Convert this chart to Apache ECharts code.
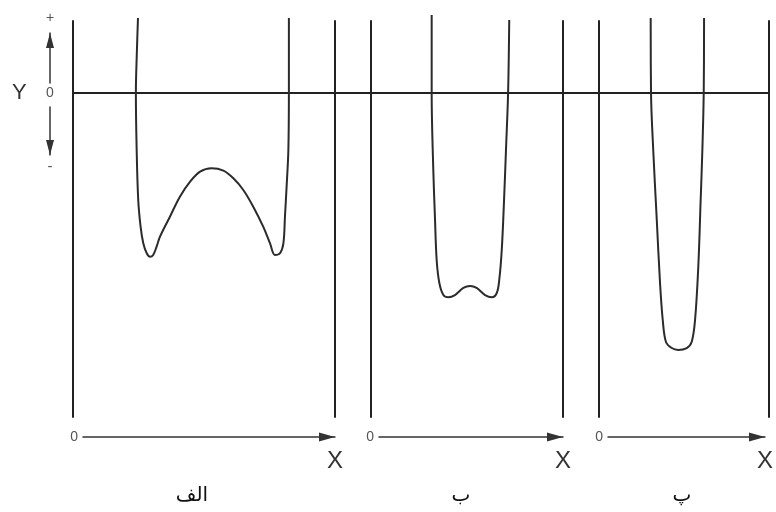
<!DOCTYPE html>
<html>
<head>
<meta charset="utf-8">
<script src="https://cdn.jsdelivr.net/npm/echarts@6/dist/echarts.min.js"></script>
<style>
  html, body { margin: 0; padding: 0; background: #fff; }
  #chart { width: 776px; height: 512px; }
</style>
</head>
<body>
<div id="chart"></div>
<script>
// Three potential wells. Inside each well x runs from the left wall (0) to the right wall (1);
// y is the energy, zero at the common baseline.
const panelLabels = ['الف', 'ب', 'پ'];

const curveAx = [0.248, 0.244, 0.240, 0.243, 0.249, 0.258, 0.268, 0.281, 0.294, 0.306,
                 0.319, 0.332, 0.370, 0.408, 0.447, 0.485, 0.529, 0.574, 0.612, 0.650,
                 0.688, 0.726, 0.752, 0.771, 0.790, 0.803, 0.809, 0.816, 0.822, 0.824, 0.824];
const curveAy = [1.042, 0.597, 0, -0.792, -1.486, -1.857, -2.083, -2.222, -2.274, -2.25,
                 -2.135, -1.996, -1.718, -1.440, -1.232, -1.093, -1.046, -1.079, -1.185, -1.347,
                 -1.579, -1.857, -2.088, -2.25, -2.226, -2.088, -1.718, -1.254, -0.792, 0, 1.042];

const curveBx = [0.316, 0.316, 0.324, 0.333, 0.342, 0.356, 0.377, 0.403, 0.4375, 0.481,
                 0.516, 0.550, 0.594, 0.629, 0.655, 0.668, 0.681, 0.693, 0.703, 0.714, 0.720];
const curveBy = [1.083, 0, -1.028, -1.722, -2.319, -2.639, -2.806, -2.838, -2.806, -2.708,
                 -2.681, -2.708, -2.806, -2.838, -2.778, -2.597, -2.181, -1.486, -0.792, 0, 1.014];

const curveCx = [0.304, 0.306, 0.319, 0.339, 0.359, 0.375, 0.394, 0.428, 0.466, 0.516,
                 0.545, 0.565, 0.584, 0.598, 0.608, 0.616, 0.618];
const curveCy = [1.042, 0, -0.792, -1.722, -2.639, -3.153, -3.458, -3.542, -3.569, -3.542,
                 -3.458, -3.153, -2.417, -1.486, -0.792, 0, 1.042];

const energyMin = -4.5;
const energyMax = 1;

const curves = [[curveAx, curveAy], [curveBx, curveBy], [curveCx, curveCy]];

// ---- layout ----
const wellLeft = [73, 371, 599];
const wellWidth = [262, 192, 170];
const wellTop = 21, wellHeight = 396;
const arrowLeft = [83, 379, 608];
const arrowRight = [335, 563, 772];
const labelLeft = [187, 456, 677];

const ink = '#222';
const curveInk = '#2b2b2b';
const soft = '#555';

const grid = [], xAxis = [], yAxis = [], series = [];

// wells
for (let i = 0; i < 3; i++) {
  grid.push({ left: wellLeft[i], top: wellTop, width: wellWidth[i], height: wellHeight });
  xAxis.push({ gridIndex: i, type: 'value', min: 0, max: 1, show: false });
}
for (let i = 0; i < 3; i++) {
  yAxis.push({
    gridIndex: i, type: 'value', min: energyMin, max: energyMax, position: 'left',
    axisLine: { show: true, onZero: false, lineStyle: { color: ink, width: 2 } },
    axisTick: { show: false }, axisLabel: { show: false }, splitLine: { show: false }
  });
}
for (let i = 0; i < 3; i++) {
  yAxis.push({
    gridIndex: i, type: 'value', min: energyMin, max: energyMax, position: 'right',
    axisLine: { show: true, onZero: false, lineStyle: { color: ink, width: 2 } },
    axisTick: { show: false }, axisLabel: { show: false }, splitLine: { show: false }
  });
}

// common zero baseline across all wells
grid.push({ left: wellLeft[0], top: 93, width: wellLeft[2] + wellWidth[2] - wellLeft[0], height: 10 });
xAxis.push({
  gridIndex: 3, type: 'value', min: 0, max: 1, position: 'top',
  axisLine: { show: true, onZero: false, lineStyle: { color: ink, width: 2 } },
  axisTick: { show: false }, axisLabel: { show: false }, splitLine: { show: false }
});
yAxis.push({ gridIndex: 3, type: 'value', show: false });

// X arrows under each well
for (let i = 0; i < 3; i++) {
  const g = 4 + i;
  grid.push({ left: arrowLeft[i], top: 436, width: arrowRight[i] - arrowLeft[i], height: 1 });
  xAxis.push({
    gridIndex: g, type: 'value', min: 0, max: 1, interval: 1, position: 'bottom',
    axisLine: {
      show: true, onZero: false, symbol: ['none', 'triangle'],
      symbolSize: [9, 16], symbolOffset: [0, -8],
      lineStyle: { color: '#333', width: 1.5 }
    },
    axisTick: { show: false }, splitLine: { show: false },
    axisLabel: {
      formatter: v => (v === 1 ? 'X' : ''), showMaxLabel: true,
      fontSize: 24, color: '#333', margin: 12, fontFamily: 'Liberation Sans'
    },
    name: '0', nameLocation: 'start', nameGap: 5,
    nameTextStyle: { fontSize: 14, color: soft, fontFamily: 'Liberation Sans' }
  });
  yAxis.push({ gridIndex: g, type: 'value', show: false });
}

// Y direction indicator: upward (+) and downward (-) arrows around 0
grid.push({ left: 50, top: 33, width: 1, height: 50 });
grid.push({ left: 50, top: 107, width: 1, height: 48 });
xAxis.push({ gridIndex: 7, type: 'value', show: false });
xAxis.push({ gridIndex: 8, type: 'value', show: false });
yAxis.push({
  gridIndex: 7, type: 'value', min: 0, max: 1,
  axisLine: {
    show: true, onZero: false, symbol: ['none', 'triangle'],
    symbolSize: [8, 15], symbolOffset: [0, -7.5],
    lineStyle: { color: '#333', width: 1.5 }
  },
  axisTick: { show: false }, axisLabel: { show: false }, splitLine: { show: false },
  name: '+', nameLocation: 'end', nameGap: 8,
  nameTextStyle: { fontSize: 14, color: soft, fontFamily: 'Liberation Sans' }
});
yAxis.push({
  gridIndex: 8, type: 'value', min: 0, max: 1, interval: 1,
  axisLine: {
    show: true, onZero: false, symbol: ['triangle', 'none'],
    symbolSize: [8, 15], symbolOffset: [7.5, 0],
    lineStyle: { color: '#333', width: 1.5 }
  },
  axisTick: { show: false }, splitLine: { show: false },
  axisLabel: {
    formatter: v => (v === 0 ? '-' : ''), showMinLabel: true,
    align: 'center', verticalAlign: 'top', margin: 0, padding: [4, 0, 0, 0],
    fontSize: 15, color: soft, fontFamily: 'Liberation Sans'
  },
  name: '0', nameLocation: 'end', nameGap: 7,
  nameTextStyle: { fontSize: 14, color: soft, fontFamily: 'Liberation Sans' }
});

// energy curves
curves.forEach(([xs, ys], i) => {
  series.push({
    type: 'line', xAxisIndex: i, yAxisIndex: i,
    data: xs.map((x, k) => [x, ys[k]]),
    showSymbol: false, smooth: 0.35, clip: false, silent: true,
    lineStyle: { color: curveInk, width: 2 }
  });
});

const title = [{
  text: 'Y', left: 7, top: 77,
  textStyle: { fontSize: 22, fontWeight: 'normal', color: '#333', fontFamily: 'Liberation Sans' }
}];
panelLabels.forEach((t, i) => {
  title.push({
    text: t, left: labelLeft[i], top: 481, textAlign: 'center',
    textStyle: { fontSize: 20, fontWeight: 'normal', color: '#111', fontFamily: 'DejaVu Sans' }
  });
});

const chart = echarts.init(document.getElementById('chart'), null, { renderer: 'canvas' });
chart.setOption({
  animation: false,
  backgroundColor: '#fff',
  title, grid, xAxis, yAxis, series
});
</script>
</body>
</html>
